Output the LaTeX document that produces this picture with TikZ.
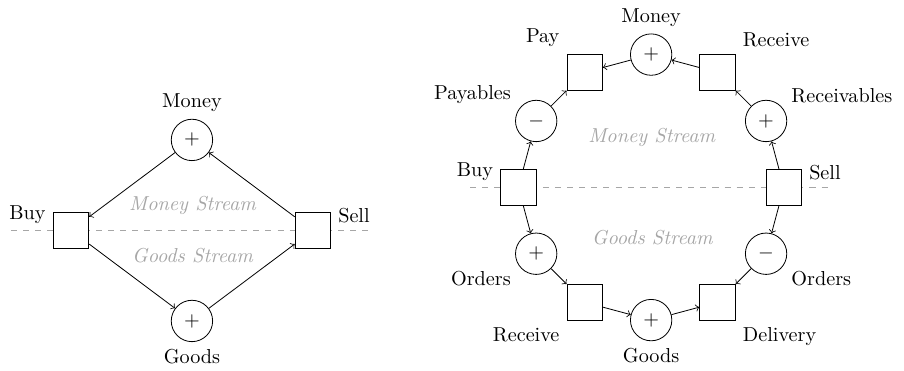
\documentclass[tikz,border=0pt]{standalone}
\usepackage{tikz}
\usetikzlibrary{positioning, calc}
\tikzset{act/.style={draw, fill=white, minimum size=0.62cm}}
\tikzset{stock/.style={draw, circle, fill=white, minimum size=0.72cm, inner sep=0pt}}

\begin{document}
\begin{tikzpicture}[flow/.style={->}, divide/.style={dashed, gray!70}, stream/.style={gray!70, font=\itshape}]
                \useasboundingbox (0, 0) rectangle (15.73, 6.44);
                % simple cycle
                \coordinate (divL1) at (0.19, 2.43);
                \coordinate (divR1) at (6.48, 2.43);
                \draw[divide] (divL1) -- (divR1);
                \node[act, label={[anchor=south east]180:Buy}] (buy1) at (1.235, 2.43) {};
                \node[act, label={[anchor=south west]0:Sell}] (sell1) at (5.445, 2.43) {};
                \node[stock, label=above:Money] (money1) at (3.34, 4.005) {\(+\)};
                \node[stock, label=below:Goods] (goods1) at (3.34, 0.855) {\(+\)};
                \node[stream] (ms1) at (3.35, 2.86) {Money Stream};
                \node[stream] (gs1) at (3.35, 1.99) {Goods Stream};
                \draw[flow] (money1) -- (buy1);
                \draw[flow] (sell1) -- (money1);
                \draw[flow] (buy1) -- (goods1);
                \draw[flow] (goods1) -- (sell1);
                % detailed cycle
                \coordinate (divL2) at (8.18, 3.18);
                \coordinate (divR2) at (14.48, 3.18);
                \draw[divide] (divL2) -- (divR2);
                \node[act, label={[anchor=south east]180:Buy}] (buy2) at (9.02, 3.18) {};
                \node[stock, label={[anchor=south east]150:Payables}] (payables) at (9.33, 4.335) {\(-\)};
                \node[act, label=above left:Pay] (pay) at (10.175, 5.18) {};
                \node[stock, label=above:Money] (money2) at (11.33, 5.49) {\(+\)};
                \node[act, label=above right:Receive] (recmoney) at (12.485, 5.18) {};
                \node[stock, label={[anchor=south west]30:Receivables}] (receivables) at (13.33, 4.335) {\(+\)};
                \node[act, label={[anchor=south west]0:Sell}] (sell2) at (13.64, 3.18) {};
                \node[stock, label={[anchor=north west]330:Orders}] (ordersout) at (13.33, 2.025) {\(-\)};
                \node[act, label=below right:Delivery] (delivery) at (12.485, 1.18) {};
                \node[stock, label=below:Goods] (goods2) at (11.33, 0.87) {\(+\)};
                \node[act, label=below left:Receive] (recgoods) at (10.175, 1.18) {};
                \node[stock, label={[anchor=north east]210:Orders}] (ordersin) at (9.33, 2.025) {\(+\)};
                \node[stream] (ms2) at (11.34, 4.05) {Money Stream};
                \node[stream] (gs2) at (11.35, 2.31) {Goods Stream};
                \draw[flow] (buy2) -- (payables);
                \draw[flow] (payables) -- (pay);
                \draw[flow] (money2) -- (pay);
                \draw[flow] (recmoney) -- (money2);
                \draw[flow] (receivables) -- (recmoney);
                \draw[flow] (sell2) -- (receivables);
                \draw[flow] (buy2) -- (ordersin);
                \draw[flow] (ordersin) -- (recgoods);
                \draw[flow] (recgoods) -- (goods2);
                \draw[flow] (goods2) -- (delivery);
                \draw[flow] (ordersout) -- (delivery);
                \draw[flow] (sell2) -- (ordersout);
            \end{tikzpicture}
\end{document}
